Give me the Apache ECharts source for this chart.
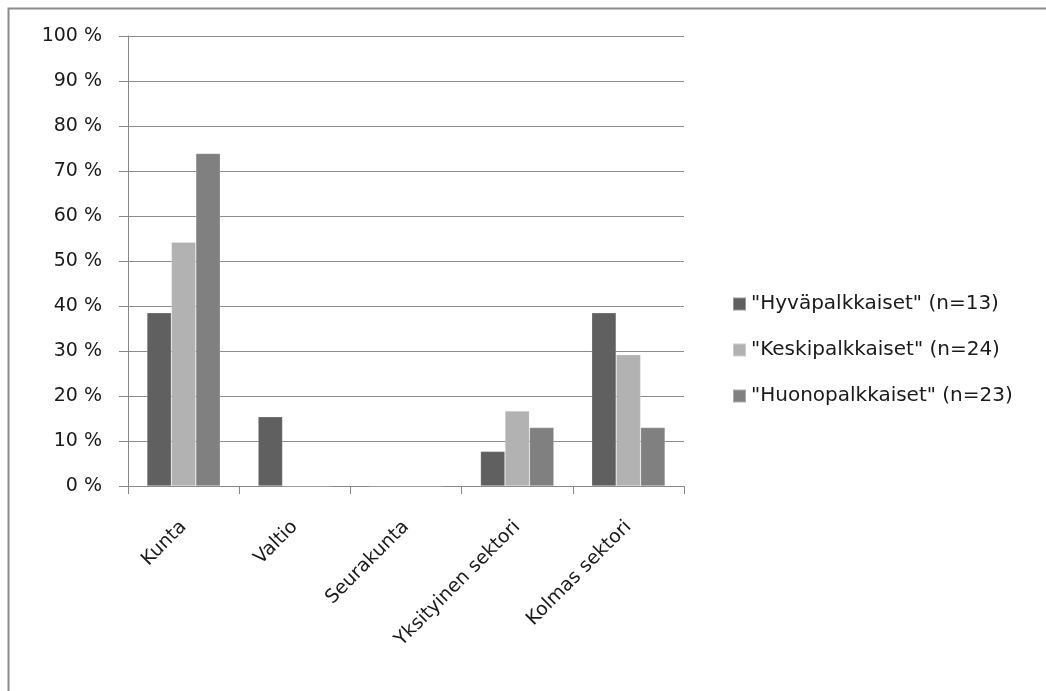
<!DOCTYPE html>
<html><head><meta charset="utf-8">
<script src="https://cdn.jsdelivr.net/npm/echarts@6/dist/echarts.min.js"></script>
<style>html,body{margin:0;padding:0;background:#fff}#c{width:1046px;height:691px}</style>
</head><body><div id="c"></div>
<script>
const categories = ["Kunta", "Valtio", "Seurakunta", "Yksityinen sektori", "Kolmas sektori"];
const seriesNames = ['"Hyväpalkkaiset" (n=13)', '"Keskipalkkaiset" (n=24)', '"Huonopalkkaiset" (n=23)'];
const hyva = [38.5, 15.4, 0, 7.7, 38.5];
const keski = [54.2, 0, 0, 16.7, 29.2];
const huono = [73.9, 0, 0, 13.0, 13.0];
const colors = ["#606060", "#b2b2b2", "#808080"];
const FONT = "'DejaVu Sans', 'Open Sans', sans-serif";

const chart = echarts.init(document.getElementById('c'));
const mk = (name, data, color) => ({
  name, type: 'bar', data, barGap: '0%', barCategoryGap: '34%',
  itemStyle: { color, borderColor: 'rgba(255,255,255,0.35)', borderWidth: 0.6 }
});
chart.setOption({
  animation: false,
  graphic: [{ type: 'rect', shape: { x: 8.5, y: 8.5, width: 1100, height: 1000 },
    style: { fill: 'none', stroke: '#8a8a8a', lineWidth: 2 }, silent: true }],
  grid: { left: 128, top: 36, width: 556, height: 450, containLabel: false },
  legend: {
    orient: 'vertical', left: 727, top: 287, itemGap: 22, itemWidth: 13, itemHeight: 13,
    icon: 'rect',
    textStyle: { fontFamily: FONT, fontSize: 20, lineHeight: 24, color: '#1a1a1a' },
    data: seriesNames
  },
  xAxis: {
    type: 'category', data: categories,
    axisLine: { lineStyle: { color: '#888', width: 1 } },
    axisTick: { show: true, length: 8, lineStyle: { color: '#888' } },
    axisLabel: { rotate: 45, margin: 38, fontFamily: FONT, fontSize: 19, color: '#1a1a1a', interval: 0 }
  },
  yAxis: {
    type: 'value', min: 0, max: 100, interval: 10,
    axisLine: { show: true, lineStyle: { color: '#888', width: 1 } },
    axisTick: { show: true, inside: false, length: 9, lineStyle: { color: '#888' } },
    splitLine: { lineStyle: { color: '#8c8c8c', width: 1 } },
    axisLabel: { formatter: v => v + ' %', margin: 26, fontFamily: FONT, fontSize: 19, color: '#1a1a1a' }
  },
  series: [mk(seriesNames[0], hyva, colors[0]), mk(seriesNames[1], keski, colors[1]), mk(seriesNames[2], huono, colors[2])]
});
</script></body></html>
